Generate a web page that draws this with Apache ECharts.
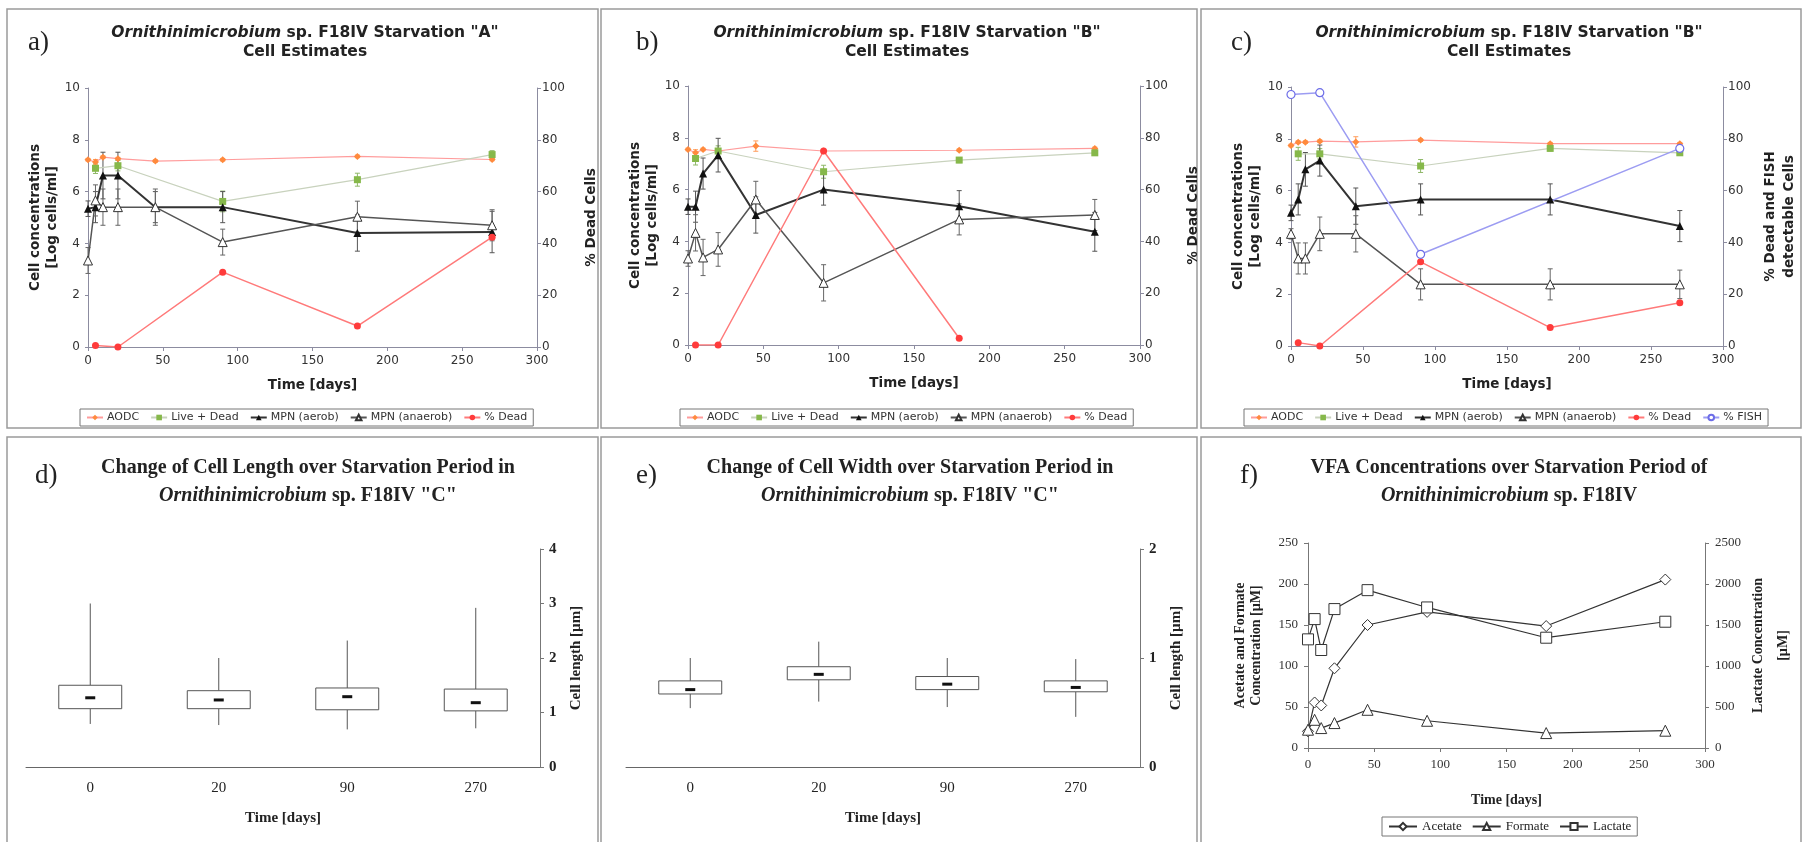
<!DOCTYPE html>
<html>
<head>
<meta charset="utf-8">
<title>Ornithinimicrobium sp. F18IV starvation</title>
<script src="https://cdn.jsdelivr.net/npm/echarts@6/dist/echarts.min.js"></script>
<style>
html, body { margin: 0; padding: 0; background: #fff; }
#chart { width: 1805px; height: 842px; }
</style>
</head>
<body>
<div id="chart"></div>
<script>
// sampling days used by the cell estimate panels
const days = [0, 5, 10, 20, 45, 90, 180, 270]
const liveDays = [5, 20, 90, 180, 270]

// a) Starvation "A"
const aAodc = [7.23, 7.14, 7.33, 7.27, 7.18, 7.23, 7.36, 7.24]
const aAodcErr = [0.05, 0.1, 0.05, 0.05, 0.05, 0.05, 0.05, 0.05]
const aLive = [6.9, 7.0, 5.62, 6.46, 7.43]
const aLiveErr = [0.2, 0.2, 0.4, 0.25, 0.15]
const aAerob = [5.34, 5.4, 6.62, 6.62, 5.4, 5.4, 4.4, 4.44]
const aAerobErr = [0.3, 0.6, 0.9, 0.9, 0.6, 0.6, 0.7, 0.8]
const aAnaerob = [3.34, 5.66, 5.4, 5.4, 5.4, 4.05, 5.03, 4.7]
const aAnaerobErr = [0.5, 0.6, 0.7, 0.7, 0.7, 0.5, 0.6, 0.6]
const aDeadDays = [5, 20, 90, 180, 270]
const aDead = [0.6, 0, 28.9, 8.1, 42.4]

// b) Starvation "B"
const bAodc = [7.55, 7.42, 7.55, 7.49, 7.68, 7.49, 7.52, 7.59]
const bAodcErr = [0.05, 0.12, 0.05, 0.05, 0.2, 0.05, 0.05, 0.05]
const bLive = [7.2, 7.49, 6.69, 7.14, 7.42]
const bLiveErr = [0.25, 0.2, 0.25, 0.1, 0.1]
const bAerob = [5.34, 5.34, 6.62, 7.33, 5.02, 6.0, 5.36, 4.37]
const bAerobErr = [0.3, 0.6, 0.6, 0.65, 0.7, 0.6, 0.6, 0.75]
const bAnaerob = [3.34, 4.33, 3.38, 3.69, 5.62, 2.4, 4.85, 5.02]
const bAnaerobErr = [0.3, 0.7, 0.7, 0.65, 0.7, 0.7, 0.6, 0.6]
const bDeadDays = [5, 20, 90, 180]
const bDead = [0, 0, 74.9, 2.6]

// c) Starvation "B" with FISH
const cAodc = [7.74, 7.87, 7.87, 7.91, 7.88, 7.95, 7.81, 7.81]
const cAodcErr = [0.05, 0.05, 0.05, 0.05, 0.2, 0.05, 0.05, 0.05]
const cLive = [7.42, 7.42, 6.95, 7.63, 7.46]
const cLiveErr = [0.25, 0.2, 0.25, 0.1, 0.1]
const cAerob = [5.14, 5.66, 6.82, 7.16, 5.4, 5.66, 5.66, 4.63]
const cAerobErr = [0.3, 0.6, 0.65, 0.6, 0.7, 0.6, 0.6, 0.6]
const cAnaerob = [4.33, 3.38, 3.38, 4.33, 4.33, 2.38, 2.38, 2.38]
const cAnaerobErr = [0.2, 0.6, 0.6, 0.65, 0.7, 0.6, 0.6, 0.55]
const cDeadDays = [5, 20, 90, 180, 270]
const cDead = [1.3, 0, 32.5, 7.1, 16.7]
const fishDays = [0, 20, 90, 270]
const cFish = [97.1, 97.8, 35.4, 76.3]

// d) / e) cell size boxes: [min, q1, median, q3, max]
const boxDays = ['0', '20', '90', '270']
const lengthBox = [
	[0.79, 1.07, 1.27, 1.50, 3.0],
	[0.77, 1.07, 1.23, 1.40, 2.0],
	[0.69, 1.05, 1.29, 1.45, 2.32],
	[0.71, 1.03, 1.18, 1.43, 2.92]
]
const widthBox = [
	[0.54, 0.67, 0.71, 0.79, 1.0],
	[0.60, 0.80, 0.85, 0.92, 1.15],
	[0.55, 0.71, 0.76, 0.83, 1.0],
	[0.46, 0.69, 0.73, 0.79, 0.99]
]

// f) VFA concentrations
const vfaDays = [0, 5, 10, 20, 45, 90, 180, 270]
const acetate = [20.3, 55.5, 51.9, 97.2, 150, 166, 148.7, 205.4]
const formate = [22.3, 34.4, 24.3, 30.4, 46.6, 33.2, 18.2, 21.1]
const lactate = [1325, 1572, 1195, 1694, 1925, 1714, 1345, 1540]

const sans = 'DejaVu Sans'
const serif = 'Liberation Serif'
const axisGrey = '#8c8ca0'

const pairs = (xs, ys) => xs.map((x, i) => [x, ys[i]])
const triples = (xs, ys, es) => xs.map((x, i) => [x, ys[i], es[i]])

// vertical error bars with small caps
function errorBars(name, xi, yi, data, color) {
	return {
		type: 'custom',
		name: name,
		xAxisIndex: xi,
		yAxisIndex: yi,
		silent: true,
		z: 1,
		itemStyle: { color: color },
		encode: { x: 0, y: 1 },
		data: data,
		renderItem(params, api) {
			const x = api.value(0)
			const y = api.value(1)
			const e = api.value(2)
			const top = api.coord([x, y + e])
			const bot = api.coord([x, y - e])
			const c = api.visual('color')
			const seg = (x1, y1, x2, y2) => ({ type: 'line', shape: { x1, y1, x2, y2 }, style: { stroke: c, lineWidth: 1 } })
			return {
				type: 'group',
				children: [
					seg(top[0], top[1], bot[0], bot[1]),
					seg(top[0] - 2.5, top[1], top[0] + 2.5, top[1]),
					seg(bot[0] - 2.5, bot[1], bot[0] + 2.5, bot[1])
				]
			}
		}
	}
}

// box with whiskers and a short median dash
function boxSeries(xi, yi, rows) {
	return {
		type: 'custom',
		xAxisIndex: xi,
		yAxisIndex: yi,
		silent: true,
		encode: { x: 0, y: [1, 2, 3, 4, 5] },
		data: rows.map((r, i) => [i].concat(r)),
		renderItem(params, api) {
			const i = api.value(0)
			const lo = api.coord([i, api.value(1)])
			const cx = lo[0]
			const q1 = api.coord([i, api.value(2)])[1]
			const md = api.coord([i, api.value(3)])[1]
			const q3 = api.coord([i, api.value(4)])[1]
			const hi = api.coord([i, api.value(5)])[1]
			const w = api.size([1, 0])[0] * 0.49
			const st = { stroke: '#555', lineWidth: 1 }
			return {
				type: 'group',
				children: [
					{ type: 'line', shape: { x1: cx, y1: hi, x2: cx, y2: q3 }, style: st },
					{ type: 'line', shape: { x1: cx, y1: q1, x2: cx, y2: lo[1] }, style: st },
					{ type: 'rect', shape: { x: cx - w / 2, y: q3, width: w, height: q1 - q3 }, style: { fill: '#fff', stroke: '#555', lineWidth: 1 } },
					{ type: 'line', shape: { x1: cx - 5, y1: md, x2: cx + 5, y2: md }, style: { stroke: '#111', lineWidth: 3 } }
				]
			}
		}
	}
}

const aodcStyle = { symbol: 'diamond', symbolSize: 7, lineStyle: { color: '#ff9c9c', width: 1.2 }, itemStyle: { color: '#ff8a3d' } }
const liveStyle = { symbol: 'rect', symbolSize: 7, lineStyle: { color: '#c8d2bd', width: 1.2 }, itemStyle: { color: '#86b84a' } }
const aerobStyle = { symbol: 'triangle', symbolSize: 8, lineStyle: { color: '#333', width: 2 }, itemStyle: { color: '#111' } }
const anaerobStyle = { symbol: 'triangle', symbolSize: 9, lineStyle: { color: '#555', width: 1.5 }, itemStyle: { color: '#fff', borderColor: '#333', borderWidth: 1 } }
const deadStyle = { symbol: 'circle', symbolSize: 7, lineStyle: { color: '#ff7a7a', width: 1.5 }, itemStyle: { color: '#ff3b3b' } }
const fishStyle = { symbol: 'circle', symbolSize: 8, lineStyle: { color: '#9c9cf2', width: 1.5 }, itemStyle: { color: '#fff', borderColor: '#6d6de8', borderWidth: 1.2 } }

function line(name, xi, yi, data, style) {
	return Object.assign({ type: 'line', name: name, xAxisIndex: xi, yAxisIndex: yi, data: data, z: 3, showSymbol: true }, style)
}

function cellSeries(k, aodc, aodcErr, live, liveErr, aerob, aerobErr, anaerob, anaerobErr, deadDays, dead) {
	const l = 2 * k
	const r = 2 * k + 1
	return [
		errorBars('AODC err', k, l, triples(days, aodc, aodcErr), '#ff9d5c'),
		errorBars('Live err', k, l, triples(liveDays, live, liveErr), '#8fb868'),
		errorBars('aerob err', k, l, triples(days, aerob, aerobErr), '#555'),
		errorBars('anaerob err', k, l, triples(days, anaerob, anaerobErr), '#666'),
		line('AODC', k, l, pairs(days, aodc), aodcStyle),
		line('Live + Dead', k, l, pairs(liveDays, live), liveStyle),
		line('MPN (aerob)', k, l, pairs(days, aerob), aerobStyle),
		line('MPN (anaerob)', k, l, pairs(days, anaerob), anaerobStyle),
		line('% Dead', k, r, pairs(deadDays, dead), deadStyle)
	]
}

function timeAxis(k) {
	return {
		type: 'value', gridIndex: k, min: 0, max: 300, interval: 50,
		name: 'Time [days]', nameLocation: 'middle', nameGap: 31,
		nameTextStyle: { fontFamily: sans, fontWeight: 'bold', fontSize: 13.5, color: '#222' },
		axisLine: { lineStyle: { color: axisGrey } },
		axisTick: { show: true, length: 4, lineStyle: { color: axisGrey } },
		axisLabel: { fontFamily: sans, fontSize: 12, color: '#333', margin: 8 },
		splitLine: { show: false }
	}
}

function leftCellAxis(k) {
	return {
		type: 'value', gridIndex: k, min: 0, max: 10, interval: 2,
		name: 'Cell concentrations\n[Log cells/ml]', nameLocation: 'middle', nameRotate: 90, nameGap: 26,
		nameTextStyle: { fontFamily: sans, fontWeight: 'bold', fontSize: 13.5, color: '#222', lineHeight: 17 },
		axisLine: { show: true, lineStyle: { color: axisGrey } },
		axisTick: { show: true, length: 3, lineStyle: { color: axisGrey } },
		axisLabel: { fontFamily: sans, fontSize: 12, color: '#333', margin: 8 },
		splitLine: { show: false }
	}
}

function rightPctAxis(k, name, gap) {
	return {
		type: 'value', gridIndex: k, position: 'right', min: 0, max: 100, interval: 20,
		name: name, nameLocation: 'middle', nameRotate: 90, nameGap: gap,
		nameTextStyle: { fontFamily: sans, fontWeight: 'bold', fontSize: 13.5, color: '#222', lineHeight: 19 },
		axisLine: { show: true, lineStyle: { color: axisGrey } },
		axisTick: { show: true, length: 4, lineStyle: { color: axisGrey } },
		axisLabel: { fontFamily: sans, fontSize: 12, color: '#333', margin: 5 },
		splitLine: { show: false }
	}
}

function sizeAxes(k, max) {
	return [{
		type: 'category', gridIndex: k, data: boxDays,
		name: 'Time [days]', nameLocation: 'middle', nameGap: 44,
		nameTextStyle: { fontFamily: serif, fontWeight: 'bold', fontSize: 15, color: '#222' },
		axisLine: { lineStyle: { color: '#666' } },
		axisTick: { length: 4, lineStyle: { color: '#666' } },
		axisLabel: { fontFamily: serif, fontSize: 15, color: '#222', margin: 14 }
	}, {
		type: 'value', gridIndex: k, position: 'right', min: 0, max: max, interval: 1,
		name: 'Cell length [µm]', nameLocation: 'middle', nameRotate: 90, nameGap: 29,
		nameTextStyle: { fontFamily: serif, fontWeight: 'bold', fontSize: 15, color: '#222' },
		axisLine: { show: true, lineStyle: { color: '#777' } },
		axisTick: { show: true, length: 4, lineStyle: { color: '#777' } },
		axisLabel: { fontFamily: serif, fontWeight: 'bold', fontSize: 15, color: '#222', margin: 9 },
		splitLine: { show: false }
	}]
}

const italic = (size, family, lh) => ({ fontFamily: family, fontWeight: 'bold', fontStyle: 'italic', fontSize: size, color: '#222', lineHeight: lh })

function topTitle(text, cx) {
	return {
		text: text, left: cx, top: 23, textAlign: 'center', padding: 0,
		textStyle: { fontFamily: sans, fontWeight: 'bold', fontSize: 15.5, color: '#222', lineHeight: 19, rich: { i: italic(15.5, sans, 19) } }
	}
}

function bottomTitle(text, cx) {
	return {
		text: text, left: cx, top: 454, textAlign: 'center', padding: 0,
		textStyle: { fontFamily: serif, fontWeight: 'bold', fontSize: 20, color: '#222', lineHeight: 28, rich: { i: italic(20, serif, 28) } }
	}
}

function letter(text, x, y) {
	return { text: text, left: x, top: y, padding: 0, textStyle: { fontFamily: serif, fontWeight: 'normal', fontSize: 27, color: '#222' } }
}

function cellLegend(names, x) {
	return {
		data: names, left: x, top: 409, padding: [3, 6], itemGap: 11, itemWidth: 16, itemHeight: 7,
		borderColor: '#777', borderWidth: 1, backgroundColor: '#fff',
		textStyle: { fontFamily: sans, fontSize: 11, color: '#333', padding: [0, 0, 0, -1] }
	}
}

const cellNames = ['AODC', 'Live + Dead', 'MPN (aerob)', 'MPN (anaerob)', '% Dead']

const panels = [
	[7, 9, 591, 419], [601, 9, 596, 419], [1201, 9, 600, 419],
	[7, 437, 591, 410], [601, 437, 596, 410], [1201, 437, 600, 410]
]

const chart = echarts.init(document.getElementById('chart'))

const option = {
	animation: false,
	backgroundColor: '#fff',
	graphic: panels.map(p => ({
		type: 'rect', silent: true, z: -10,
		shape: { x: p[0], y: p[1], width: p[2], height: p[3] },
		style: { fill: 'none', stroke: '#9a9a9a', lineWidth: 1.5 }
	})),
	title: [
		topTitle('{i|Ornithinimicrobium} sp. F18IV Starvation "A"\nCell Estimates', 305),
		topTitle('{i|Ornithinimicrobium} sp. F18IV Starvation "B"\nCell Estimates', 907),
		topTitle('{i|Ornithinimicrobium} sp. F18IV Starvation "B"\nCell Estimates', 1509),
		bottomTitle('Change of Cell Length over Starvation Period in\n{i|Ornithinimicrobium} sp. F18IV "C"', 308),
		bottomTitle('Change of Cell Width over Starvation Period in\n{i|Ornithinimicrobium} sp. F18IV "C"', 910),
		bottomTitle('VFA Concentrations over Starvation Period of\n{i|Ornithinimicrobium} sp. F18IV', 1509),
		letter('a)', 28, 29), letter('b)', 636, 29), letter('c)', 1231, 29),
		letter('d)', 35, 462), letter('e)', 636, 462), letter('f)', 1240, 462)
	],
	legend: [
		cellLegend(cellNames, 80),
		cellLegend(cellNames, 680),
		cellLegend(cellNames.concat(['% FISH']), 1244),
		{
			data: ['Acetate', 'Formate', 'Lactate'], left: 1382, top: 817, padding: [3, 6], itemGap: 10, itemWidth: 28, itemHeight: 9,
			borderColor: '#777', borderWidth: 1, backgroundColor: '#fff',
			textStyle: { fontFamily: serif, fontSize: 13, color: '#222' }
		}
	],
	grid: [
		{ left: 88, top: 88, width: 449, height: 259, outerBoundsMode: 'none' },
		{ left: 688, top: 86, width: 452, height: 259, outerBoundsMode: 'none' },
		{ left: 1291, top: 87, width: 432, height: 259, outerBoundsMode: 'none' },
		{ left: 26, top: 549, width: 514, height: 218, outerBoundsMode: 'none' },
		{ left: 626, top: 549, width: 514, height: 218, outerBoundsMode: 'none' },
		{ left: 1308, top: 543, width: 397, height: 205, outerBoundsMode: 'none' }
	],
	xAxis: [
		timeAxis(0), timeAxis(1), timeAxis(2),
		sizeAxes(3, 4)[0], sizeAxes(4, 2)[0],
		{
			type: 'value', gridIndex: 5, min: 0, max: 300, interval: 50,
			name: 'Time [days]', nameLocation: 'middle', nameGap: 45,
			nameTextStyle: { fontFamily: serif, fontWeight: 'bold', fontSize: 14, color: '#222' },
			axisLine: { lineStyle: { color: '#777' } },
			axisTick: { show: true, length: 4, lineStyle: { color: '#777' } },
			axisLabel: { fontFamily: serif, fontSize: 13, color: '#333', margin: 10 },
			splitLine: { show: false }
		}
	],
	yAxis: [
		leftCellAxis(0), rightPctAxis(0, '% Dead Cells', 45),
		leftCellAxis(1), rightPctAxis(1, '% Dead Cells', 44),
		leftCellAxis(2), rightPctAxis(2, '% Dead and FISH\ndetectable Cells', 38),
		sizeAxes(3, 4)[1], sizeAxes(4, 2)[1],
		{
			type: 'value', gridIndex: 5, min: 0, max: 250, interval: 50,
			name: 'Acetate and Formate\nConcentration [µM]', nameLocation: 'middle', nameRotate: 90, nameGap: 44,
			nameTextStyle: { fontFamily: serif, fontWeight: 'bold', fontSize: 14, color: '#222', lineHeight: 16 },
			axisLine: { show: true, lineStyle: { color: '#777' } },
			axisTick: { show: true, length: 4, lineStyle: { color: '#777' } },
			axisLabel: { fontFamily: serif, fontSize: 13, color: '#333', margin: 10 },
			splitLine: { show: false }
		},
		{
			type: 'value', gridIndex: 5, position: 'right', min: 0, max: 2500, interval: 500,
			name: 'Lactate Concentration\n[µM]', nameLocation: 'middle', nameRotate: 90, nameGap: 41,
			nameTextStyle: { fontFamily: serif, fontWeight: 'bold', fontSize: 14, color: '#222', lineHeight: 25 },
			axisLine: { show: true, lineStyle: { color: '#777' } },
			axisTick: { show: true, length: 4, lineStyle: { color: '#777' } },
			axisLabel: { fontFamily: serif, fontSize: 13, color: '#333', margin: 10, formatter: v => String(v) },
			splitLine: { show: false }
		}
	],
	series: [].concat(
		cellSeries(0, aAodc, aAodcErr, aLive, aLiveErr, aAerob, aAerobErr, aAnaerob, aAnaerobErr, aDeadDays, aDead),
		cellSeries(1, bAodc, bAodcErr, bLive, bLiveErr, bAerob, bAerobErr, bAnaerob, bAnaerobErr, bDeadDays, bDead),
		cellSeries(2, cAodc, cAodcErr, cLive, cLiveErr, cAerob, cAerobErr, cAnaerob, cAnaerobErr, cDeadDays, cDead),
		[line('% FISH', 2, 5, pairs(fishDays, cFish), fishStyle)],
		[boxSeries(3, 6, lengthBox), boxSeries(4, 7, widthBox)],
		[
			line('Acetate', 5, 8, pairs(vfaDays, acetate), { symbol: 'diamond', symbolSize: 11, lineStyle: { color: '#333', width: 1.2 }, itemStyle: { color: '#fff', borderColor: '#333', borderWidth: 1 } }),
			line('Formate', 5, 8, pairs(vfaDays, formate), { symbol: 'triangle', symbolSize: 11, lineStyle: { color: '#333', width: 1.2 }, itemStyle: { color: '#fff', borderColor: '#333', borderWidth: 1 } }),
			line('Lactate', 5, 9, pairs(vfaDays, lactate), { symbol: 'rect', symbolSize: 11, lineStyle: { color: '#333', width: 1.2 }, itemStyle: { color: '#fff', borderColor: '#333', borderWidth: 1 } })
		]
	)
}

chart.setOption(option)
</script>
</body>
</html>
